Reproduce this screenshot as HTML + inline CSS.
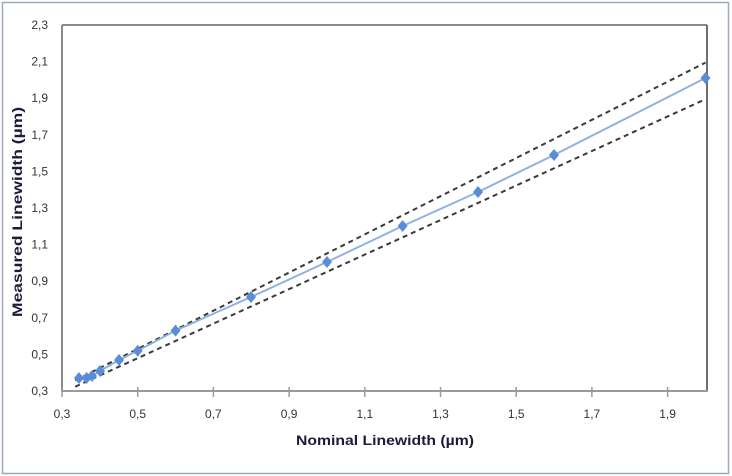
<!DOCTYPE html>
<html><head><meta charset="utf-8"><style>
html,body{margin:0;padding:0;background:#fff;}
svg{display:block;}
text{font-family:"Liberation Sans",sans-serif;}
</style></head><body>
<svg width="732" height="476" viewBox="0 0 732 476" xmlns="http://www.w3.org/2000/svg">
<rect x="0" y="0" width="732" height="476" fill="#fff"/>
<rect x="2.5" y="2.5" width="726" height="471" fill="#fff" stroke="#9aa9bb" stroke-width="1.5"/>
<!-- plot box -->
<line x1="62" y1="25" x2="707" y2="25" stroke="#8a8a8a" stroke-width="2"/>
<line x1="707" y1="25" x2="707" y2="391" stroke="#6e6e6e" stroke-width="2"/>
<line x1="62" y1="25" x2="62" y2="392" stroke="#8a8a8a" stroke-width="2"/>
<line x1="61" y1="391" x2="708" y2="391" stroke="#9a9a9a" stroke-width="2"/>
<!-- x ticks -->
<g stroke="#9a9a9a" stroke-width="1.5">
<line x1="62" y1="387" x2="62" y2="397"/>
<line x1="137.7" y1="387" x2="137.7" y2="397"/>
<line x1="213.4" y1="387" x2="213.4" y2="397"/>
<line x1="289.1" y1="387" x2="289.1" y2="397"/>
<line x1="364.8" y1="387" x2="364.8" y2="397"/>
<line x1="440.5" y1="387" x2="440.5" y2="397"/>
<line x1="516.2" y1="387" x2="516.2" y2="397"/>
<line x1="591.9" y1="387" x2="591.9" y2="397"/>
<line x1="667.6" y1="387" x2="667.6" y2="397"/>
</g>
<!-- x tick labels -->
<g font-size="12" fill="#333" text-anchor="middle">
<text x="62" y="418">0,3</text>
<text x="137.7" y="418">0,5</text>
<text x="213.4" y="418">0,7</text>
<text x="289.1" y="418">0,9</text>
<text x="364.8" y="418">1,1</text>
<text x="440.5" y="418">1,3</text>
<text x="516.2" y="418">1,5</text>
<text x="591.9" y="418">1,7</text>
<text x="667.6" y="418">1,9</text>
</g>
<!-- y tick labels -->
<g font-size="12" fill="#333" text-anchor="end">
<text x="48" y="395">0,3</text>
<text x="48" y="358.4">0,5</text>
<text x="48" y="321.8">0,7</text>
<text x="48" y="285.2">0,9</text>
<text x="48" y="248.6">1,1</text>
<text x="48" y="212">1,3</text>
<text x="48" y="175.4">1,5</text>
<text x="48" y="138.8">1,7</text>
<text x="48" y="102.2">1,9</text>
<text x="48" y="65.6">2,1</text>
<text x="48" y="29">2,3</text>
</g>
<!-- axis titles -->
<text x="385" y="445" font-size="14" font-weight="bold" fill="#1c1c3a" text-anchor="middle" textLength="178" lengthAdjust="spacingAndGlyphs">Nominal Linewidth (µm)</text>
<text transform="translate(22,212) rotate(-90)" x="0" y="0" font-size="14" font-weight="bold" fill="#1c1c3a" text-anchor="middle" textLength="210" lengthAdjust="spacingAndGlyphs">Measured Linewidth (µm)</text>
<!-- dashed bounds: y=1.05x and y=0.95x -->
<g stroke="#3a3a3a" stroke-width="2" stroke-dasharray="5,4" fill="none">
<line x1="75.2" y1="380.4" x2="705.5" y2="62.6"/>
<line x1="75.2" y1="386.7" x2="705.5" y2="99.2"/>
</g>
<!-- series -->
<polyline fill="none" stroke="#8fb1e3" stroke-width="2" points="79,378 86.6,378 92,376 100,371 119,360 137.7,350.7 175.5,330.6 251,297 327,262 402.6,226 478,192 554,155 705.5,78"/>
<g fill="#5b8dd6">
<path d="M79,372 l5,6 l-5,6 l-5,-6z"/>
<path d="M86.6,372 l5,6 l-5,6 l-5,-6z"/>
<path d="M92,370 l5,6 l-5,6 l-5,-6z"/>
<path d="M100,365 l5,6 l-5,6 l-5,-6z"/>
<path d="M119,354 l5,6 l-5,6 l-5,-6z"/>
<path d="M137.7,344.7 l5,6 l-5,6 l-5,-6z"/>
<path d="M175.5,324.6 l5,6 l-5,6 l-5,-6z"/>
<path d="M251,291 l5,6 l-5,6 l-5,-6z"/>
<path d="M327,256 l5,6 l-5,6 l-5,-6z"/>
<path d="M402.6,220 l5,6 l-5,6 l-5,-6z"/>
<path d="M478,186 l5,6 l-5,6 l-5,-6z"/>
<path d="M554,149 l5,6 l-5,6 l-5,-6z"/>
<path d="M705.5,72 l5,6 l-5,6 l-5,-6z"/>
</g>
</svg>
</body></html>
